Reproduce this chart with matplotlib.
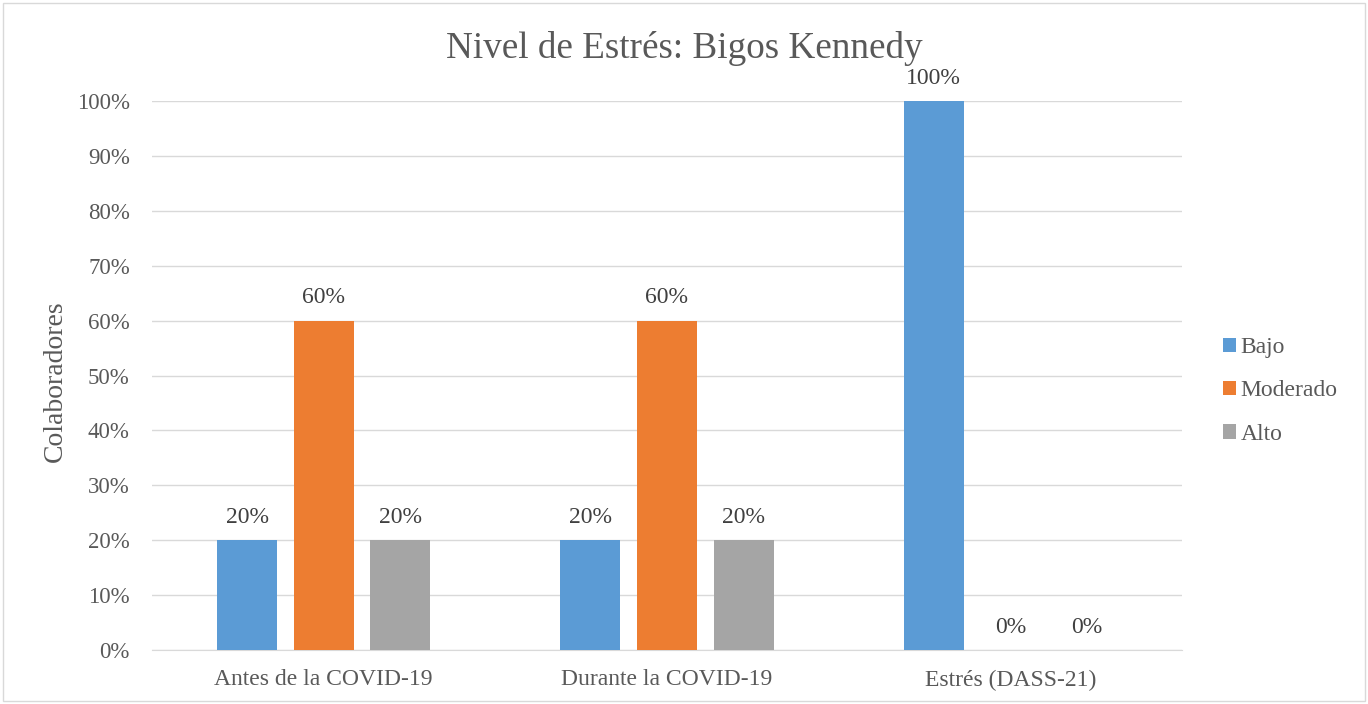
import matplotlib.pyplot as plt
from matplotlib.patches import Rectangle
import numpy as np

plt.rcParams['font.family'] = ['Liberation Serif', 'DejaVu Serif']

categories = ['Antes de la COVID-19', 'Durante la COVID-19', 'Estrés (DASS-21)']
series_names = ['Bajo', 'Moderado', 'Alto']
bajo = [0.20, 0.20, 1.00]
moderado = [0.60, 0.60, 0.00]
alto = [0.20, 0.20, 0.00]
colors = ['#5B9BD5', '#ED7D31', '#A5A5A5']
txt = '#595959'

fig = plt.figure(figsize=(13.68, 7.04), dpi=100)
ax = fig.add_axes([152 / 1368, 1 - 650 / 704, 1030 / 1368, 549 / 704])

# light frame round the whole chart
fig.patches.append(Rectangle((3 / 1368, 3 / 704), 1362 / 1368, 698 / 704,
                             transform=fig.transFigure, fill=False,
                             edgecolor='#D9D9D9', linewidth=1))

x = np.arange(len(categories))
width = 0.175
step = 0.223
for i, (vals, name) in enumerate(zip([bajo, moderado, alto], series_names)):
    pos = x + (i - 1) * step
    ax.bar(pos, vals, width, color=colors[i], label=name, zorder=3)
    for p, v in zip(pos, vals):
        ax.annotate(f'{v:.0%}', (p, v), xytext=(0, 12.5), textcoords='offset points',
                    ha='center', va='baseline', fontsize=17, color='#404040')

ax.set_xlim(-0.5, 2.5)
ax.set_ylim(0, 1)
ticks = np.arange(0, 1.01, 0.1)
ax.set_yticks(ticks)
ax.set_yticklabels([f'{int(round(t * 100))}%' for t in ticks])
ax.set_xticks(x)
ax.set_xticklabels(categories)
ax.tick_params(axis='both', length=0, colors=txt)
ax.tick_params(axis='x', pad=14, labelsize=17)
ax.tick_params(axis='y', pad=16, labelsize=16.5)
ax.grid(axis='y', color='#D9D9D9', linewidth=1, zorder=0)
for s in ['left', 'right', 'top']:
    ax.spines[s].set_visible(False)
ax.spines['bottom'].set_color('#D9D9D9')

fig.text(55 / 1368, 1 - 381 / 704, 'Colaboradores', rotation=90,
         ha='center', va='center', fontsize=20, color=txt)
fig.text(684 / 1368, 1 - 49 / 704, 'Nivel de Estrés: Bigos Kennedy',
         ha='center', va='center', fontsize=26.7, color=txt)

leg = fig.legend(loc='center left', bbox_to_anchor=(1211 / 1368, 1 - 391 / 704),
                 frameon=False, fontsize=17, handlelength=0.55, handleheight=0.55,
                 handletextpad=0.2, labelspacing=0.95, borderpad=0)
for t in leg.get_texts():
    t.set_color(txt)

fig.savefig('out.png', dpi=100)
